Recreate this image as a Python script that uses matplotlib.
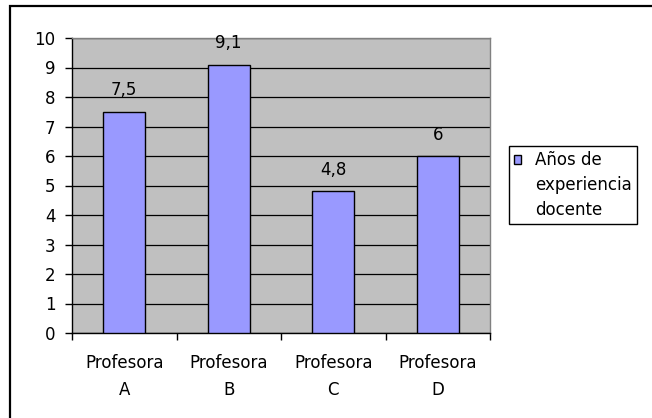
import matplotlib

matplotlib.use("Agg")
import matplotlib.pyplot as plt
from matplotlib.patches import Rectangle
from matplotlib.legend_handler import HandlerPatch
import numpy as np

# data
categories = ["Profesora\nA", "Profesora\nB", "Profesora\nC", "Profesora\nD"]
values = [7.5, 9.1, 4.8, 6.0]
value_labels = ["7,5", "9,1", "4,8", "6"]
series_name = "Años de\nexperiencia\ndocente"
yticks = list(range(0, 11))

BAR_COLOR = "#9999FF"
PLOT_BG = "#C0C0C0"
W, H = 652, 418
FS = 12

plt.rcParams.update({
    "font.family": ["DejaVu Sans"],
    "font.size": FS,
})

fig = plt.figure(figsize=(W / 100, H / 100), dpi=100)
fig.patch.set_facecolor("white")

# outer chart border (right and bottom edges are cropped off in the reference)
fig.add_artist(Rectangle((10 / W, -0.05), 1.0, 1 - 6 / H + 0.05,
                         transform=fig.transFigure, fill=False,
                         edgecolor="black", linewidth=1.6))

ax = fig.add_axes([72 / W, (H - 333) / H, (490 - 72) / W, (333 - 38) / H])
ax.set_facecolor(PLOT_BG)

x = np.arange(len(categories))
ax.bar(x, values, width=0.4, color=BAR_COLOR, edgecolor="black",
       linewidth=1.0, zorder=3)

for xi, v, lab in zip(x, values, value_labels):
    ax.annotate(lab, (xi, v), xytext=(0, 9), textcoords="offset points",
                ha="center", va="bottom", fontsize=FS)

ax.set_xlim(-0.5, len(categories) - 0.5)
ax.set_ylim(0, 10)
ax.set_yticks(yticks)
ax.yaxis.grid(True, color="black", linewidth=0.9, zorder=1)
ax.set_axisbelow(True)

# category labels between boundary ticks
ax.set_xticks(np.arange(len(categories) + 1) - 0.5)
ax.set_xticklabels([])
ax.set_xticks(x, minor=True)
ax.set_xticklabels(categories, minor=True, linespacing=1.65)
ax.tick_params(axis="x", which="minor", length=0, pad=15)
ax.tick_params(axis="x", which="major", length=5, width=1, direction="out")
ax.tick_params(axis="y", length=5, width=1, direction="out", pad=7)

for s in ("left", "bottom"):
    ax.spines[s].set_color("black")
    ax.spines[s].set_linewidth(1.0)
for s in ("top", "right"):
    ax.spines[s].set_color("#808080")
    ax.spines[s].set_linewidth(1.0)


def _top_square(legend, orig_handle, xdescent, ydescent, width, height, fontsize):
    # square aligned with the first line of the multi-line label
    return Rectangle((-xdescent, -ydescent + fontsize * 1.6), width, height)


proxy = Rectangle((0, 0), 1, 1, facecolor=BAR_COLOR, edgecolor="black",
                  linewidth=1.0)
leg = ax.legend(handles=[proxy], labels=[series_name],
                loc="upper left", bbox_to_anchor=(509 / W, 1 - 146 / H),
                bbox_transform=fig.transFigure, fancybox=False,
                edgecolor="black", framealpha=1, handlelength=0.4,
                handleheight=0.4, handletextpad=0.85, borderpad=0.3,
                borderaxespad=0, fontsize=FS,
                handler_map={Rectangle: HandlerPatch(patch_func=_top_square)})
leg.get_frame().set_linewidth(1.0)
for t in leg.get_texts():
    t.set_linespacing(1.5)

fig.savefig("out.png", dpi=100)
